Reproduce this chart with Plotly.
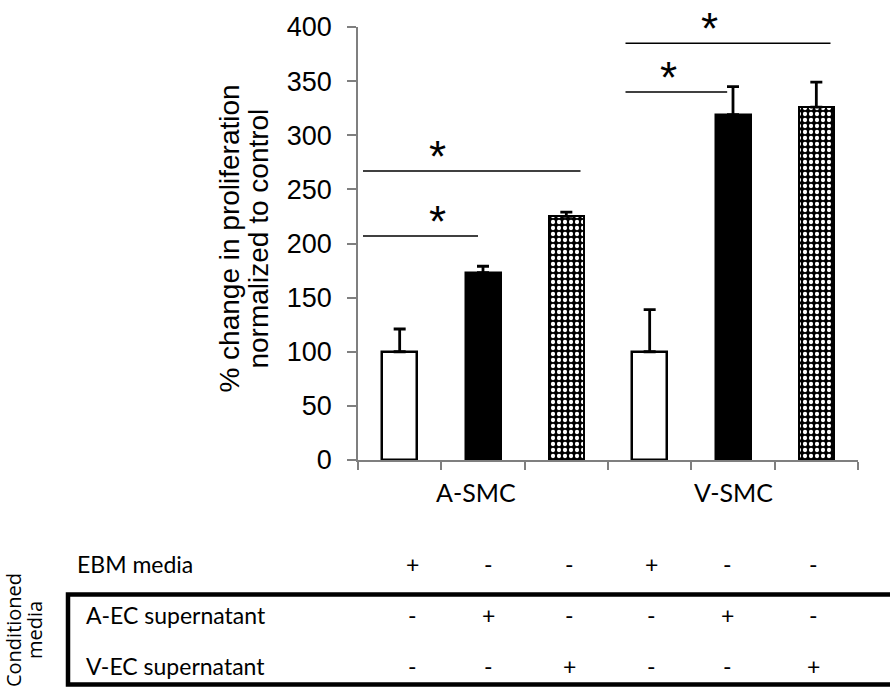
import plotly.graph_objects as go

# Proliferation data (% of control), six conditions: A-SMC x3 then V-SMC x3
groups = ["A-SMC", "V-SMC"]
treatments = ["EBM media", "A-EC supernatant", "V-EC supernatant"]
means = [100, 173, 225, 100, 319, 326]
errors = [21, 6, 4, 39, 26, 23]
positions = [1, 2, 3, 4, 5, 6]

# +/- condition table rows
ebm_row = ["+", "-", "-", "+", "-", "-"]
aec_row = ["-", "+", "-", "-", "+", "-"]
vec_row = ["-", "-", "+", "-", "-", "+"]
# horizontal placement of the table columns (x-axis units)
table_cols = [1.15, 2.07, 3.04, 4.02, 4.93, 5.97]

# Figure geometry
W, H = 890, 698
ML, MR, MT, MB = 358, 32, 22, 238
PW, PH = W - ML - MR, H - MT - MB


def px(xp):
    return (xp - ML) / PW


def py(yp):
    return (H - MB - yp) / PH


AXIS_GREY = "#7f7f7f"
fig = go.Figure()

err_common = dict(type="data", symmetric=False, arrayminus=[0, 0],
                  thickness=2.8, width=6, color="black")

# EBM (white), A-EC (black), V-EC (dotted) bars
for i, style in enumerate(["white", "black", "dotted"]):
    xs = [positions[i], positions[i + 3]]
    ys = [means[i], means[i + 3]]
    es = [errors[i], errors[i + 3]]
    if style == "dotted":
        marker = dict(color="black", line=dict(color="black", width=2),
                      pattern=dict(shape=".", fgcolor="white", bgcolor="black",
                                   fillmode="replace", size=6, solidity=0.4))
    else:
        marker = dict(color=style, line=dict(color="black", width=2.5))
    fig.add_trace(go.Bar(x=xs, y=ys, width=0.42, marker=marker,
                         error_y=dict(array=es, **err_common),
                         showlegend=False, hoverinfo="skip"))

fig.update_layout(
    width=W, height=H,
    margin=dict(l=ML, r=MR, t=MT, b=MB, pad=0),
    paper_bgcolor="white", plot_bgcolor="white",
    bargap=0,
    xaxis=dict(range=[0.5, 6.5], tickvals=[0.5, 1.5, 2.5, 3.5, 4.5, 5.5, 6.5],
               showticklabels=False, ticks="outside", ticklen=8, tickwidth=1.5,
               tickcolor=AXIS_GREY, showline=True, linecolor=AXIS_GREY,
               linewidth=1.5, showgrid=False, zeroline=False),
    yaxis=dict(range=[0, 400], dtick=50, ticks="outside", ticklen=9,
               tickwidth=1.5, tickcolor=AXIS_GREY, showline=True,
               linecolor=AXIS_GREY, linewidth=1.5, showgrid=False,
               zeroline=False, ticklabelstandoff=10,
               tickfont=dict(family="Liberation Sans, Arial", size=27,
                             color="black")),
)

ann = []
# y-axis title, two lines
title_font = dict(family="Liberation Sans, Arial", size=28, color="black")
for line, xc in [("% change in proliferation", 230),
                 ("normalized to control", 259)]:
    ann.append(dict(text=line, xref="paper", yref="paper", x=px(xc),
                    y=py(236), textangle=-90, showarrow=False,
                    xanchor="center", yanchor="middle", font=title_font))

# group labels under the axis
for g, xc in zip(groups, [1.92, 5.0]):
    ann.append(dict(text=g, xref="x", yref="paper", x=xc, y=py(492),
                    showarrow=False, xanchor="center", yanchor="middle",
                    font=dict(family="Lato", size=25, color="black")))

# condition table
row_y = [565, 617, 668]
row_x = [75, 84, 84]
for name, row, yy, xx in zip(treatments, [ebm_row, aec_row, vec_row],
                             row_y, row_x):
    ann.append(dict(text=name, xref="paper", yref="paper", x=px(xx),
                    y=py(yy), showarrow=False, xanchor="left",
                    yanchor="middle",
                    font=dict(family="Lato", size=23, color="black")))
    for xpos, sym in zip(table_cols, row):
        ann.append(dict(text=sym, xref="x", yref="paper", x=xpos,
                        y=py(yy), showarrow=False, xanchor="center",
                        yanchor="middle",
                        font=dict(family="Lato", size=23, color="black")))

side_font = dict(family="Open Sans", size=20, color="black")
for line, xc in [("Conditioned", 13), ("media", 34)]:
    ann.append(dict(text=line, xref="paper", yref="paper", x=px(xc),
                    y=py(632), textangle=-90, showarrow=False,
                    xanchor="center", yanchor="middle", font=side_font))

# significance brackets: (x start, x end, y level, star x)
sig = [(0.56, 1.94, 207, 1.45), (0.56, 3.17, 267, 1.45),
       (3.71, 4.93, 340, 4.22), (3.71, 6.17, 385, 4.72)]
shapes = []
for x0, x1, yl, xs in sig:
    shapes.append(dict(type="line", xref="x", yref="y", x0=x0, x1=x1,
                       y0=yl, y1=yl, line=dict(color="black", width=1.5)))
    ann.append(dict(text="*", xref="x", yref="y", x=xs, y=yl,
                    showarrow=False, xanchor="center", yanchor="bottom",
                    yshift=-12,
                    font=dict(family="Liberation Sans, Arial", size=44,
                              color="black")))

# frame around the conditioned-media rows
shapes.append(dict(type="rect", xref="paper", yref="paper", x0=px(68),
                   x1=px(900), y0=py(687), y1=py(596),
                   line=dict(color="black", width=4.5)))

fig.update_layout(annotations=ann, shapes=shapes)
fig.write_html("out.html")
